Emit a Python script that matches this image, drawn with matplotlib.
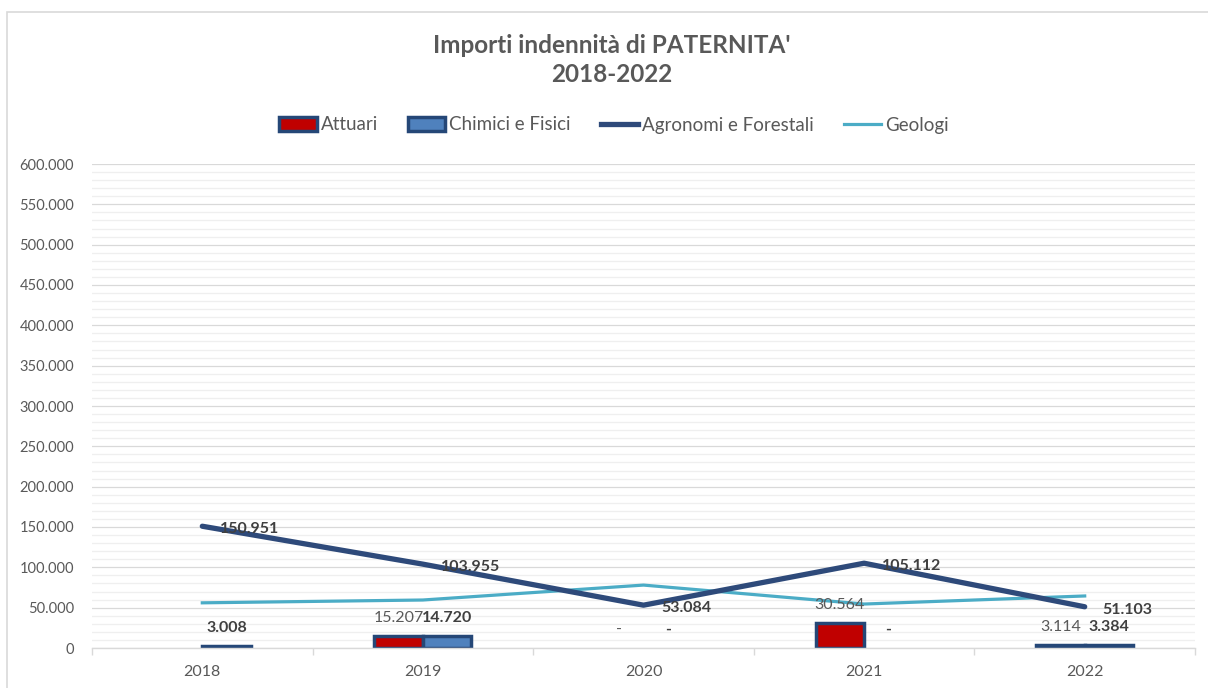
import numpy as np
import matplotlib.pyplot as plt
from matplotlib.patches import Rectangle, Patch
from matplotlib.lines import Line2D

years = ['2018', '2019', '2020', '2021', '2022']
attuari = [None, 15207, 0, 30564, 3114]
chimici = [3008, 14720, 0, 0, 3384]
agronomi = [150951, 103955, 53084, 105112, 51103]
geologi = [56000, 59500, 78000, 54500, 64500]

RED = '#C00000'
BLUE = '#4F81BD'
NAVY = '#2E4A7A'
EDGE = '#254777'
AQUA = '#4BACC6'
GREY = '#595959'

plt.rcParams['font.family'] = ['Lato', 'DejaVu Sans']


def fmt(v):
    return '-' if v == 0 else f'{v:,}'.replace(',', '.')


fig = plt.figure(figsize=(12.08, 6.88), dpi=100)
ax = fig.add_axes([92 / 1208, 1 - 648 / 688, 1103 / 1208, 484 / 688])

# chart border
fig.patches.append(Rectangle((7 / 1208, -0.05), 1.2, 1 - 12 / 688 + 0.05,
                             transform=fig.transFigure, fill=False,
                             edgecolor='#D9D9D9', lw=1.2))

x = np.arange(len(years))
w = 0.22
for vals, off, col, bold in [(attuari, -w / 2, RED, False), (chimici, w / 2, BLUE, True)]:
    for i, v in enumerate(vals):
        if v is None:
            continue
        if v > 0:
            ax.bar(x[i] + off, v, w, color=col, edgecolor=EDGE, linewidth=2.5, zorder=2)
        ax.annotate(fmt(v), (x[i] + off, v), xytext=(0, 13), textcoords='offset points',
                    ha='center', va='center', fontsize=11.5,
                    fontweight='bold' if bold else 'normal',
                    color='#404040' if bold else GREY, zorder=5)

ax.plot(x, geologi, color=AQUA, lw=2.3, zorder=3)
ax.plot(x, agronomi, color=NAVY, lw=3.8, zorder=4, solid_capstyle='round')
for i, v in enumerate(agronomi):
    ax.annotate(fmt(v), (x[i], v), xytext=(13, -2), textcoords='offset points',
                ha='left', va='center', fontsize=11.5, fontweight='bold',
                color='#404040', zorder=5)

ax.set_xlim(-0.5, 4.5)
ax.set_ylim(0, 600000)
ax.set_yticks(np.arange(0, 600001, 50000))
ax.set_yticks(np.arange(0, 600001, 10000), minor=True)
ax.set_yticklabels([fmt(v) if v else '0' for v in range(0, 600001, 50000)])
ax.grid(axis='y', which='major', color='#D9D9D9', lw=0.9, zorder=0)
ax.grid(axis='y', which='minor', color='#EFEFEF', lw=0.9, zorder=0)
ax.set_axisbelow(True)
ax.tick_params(axis='y', which='both', length=0, pad=13, labelsize=10.5, labelcolor=GREY)

ax.set_xticks(x)
ax.set_xticklabels(years)
ax.set_xticks(np.arange(-0.5, 5, 1), minor=True)
ax.tick_params(axis='x', which='major', length=0, pad=12, labelsize=11.5, labelcolor=GREY)
ax.tick_params(axis='x', which='minor', length=5, color='#D9D9D9', width=1)

for s in ['top', 'right', 'left']:
    ax.spines[s].set_visible(False)
ax.spines['bottom'].set_color('#D9D9D9')
ax.spines['bottom'].set_linewidth(1)

fig.text(612 / 1208, 1 - 60 / 688, "Importi indennità di PATERNITA'\n2018-2022",
         ha='center', va='center', fontsize=17.5, fontweight='bold', color=GREY,
         linespacing=1.35)

handles = [Patch(facecolor=RED, edgecolor=EDGE, lw=2.5),
           Patch(facecolor=BLUE, edgecolor=EDGE, lw=2.5),
           Line2D([], [], color=NAVY, lw=3.8),
           Line2D([], [], color=AQUA, lw=2.3)]
labels = ['Attuari', 'Chimici e Fisici', 'Agronomi e Forestali', 'Geologi']
fig.legend(handles, labels, loc='center', bbox_to_anchor=(614 / 1208, 1 - 125 / 688),
           ncol=4, frameon=False, fontsize=13.5, labelcolor=GREY,
           handlelength=2.0, handleheight=0.8, handletextpad=0.2, columnspacing=1.6)

fig.savefig('out.png', dpi=100)
